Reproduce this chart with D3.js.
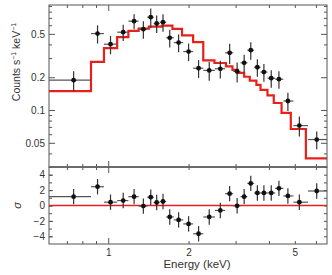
<!DOCTYPE html>
<html>
<head>
<meta charset="utf-8">
<script src="https://cdn.jsdelivr.net/npm/d3@7/dist/d3.min.js"></script>
<style>
  body { margin: 0; background: #fff; }
  text { font-family: "Liberation Sans", Arial, sans-serif; fill: #333; }
</style>
</head>
<body>
<svg id="chart" width="332" height="275"></svg>
<script>
// spectrum points (keV, counts s^-1 keV^-1)
const energy = [0.742, 0.912, 1.02, 1.138, 1.25, 1.354, 1.443, 1.519, 1.604, 1.70,
                1.835, 2.0, 2.18, 2.39, 2.63, 2.85, 3.04, 3.23, 3.42, 3.62,
                3.83, 4.08, 4.36, 4.71, 5.2, 6.04];
// bin edges of the data points (one more than points)
const dataEdges = [0.60, 0.862, 0.964, 1.08, 1.19, 1.30, 1.40, 1.48, 1.56, 1.65,
                   1.76, 1.91, 2.08, 2.27, 2.51, 2.74, 2.94, 3.13, 3.32, 3.52,
                   3.72, 3.95, 4.22, 4.53, 4.94, 5.60, 6.62];
const counts = [0.188, 0.503, 0.402, 0.518, 0.654, 0.552, 0.711, 0.622, 0.640, 0.460,
                0.416, 0.344, 0.242, 0.231, 0.239, 0.335, 0.226, 0.271, 0.354, 0.247,
                0.223, 0.196, 0.192, 0.121, 0.072, 0.0536];
const countErr = [0.039, 0.096, 0.077, 0.089, 0.104, 0.10, 0.143, 0.114, 0.118, 0.085,
                  0.077, 0.063, 0.045, 0.045, 0.044, 0.07, 0.047, 0.05, 0.065, 0.045,
                  0.041, 0.036, 0.035, 0.023, 0.015, 0.010];
// residuals in sigma
const resid = [1.15, 2.44, 0.43, 0.64, 1.15, -0.08, 1.08, 0.39, 0.52, -1.49,
               -1.87, -2.39, -3.67, -1.49, -0.64, 1.54, -0.04, 1.15, 2.87, 1.63,
               1.63, 1.63, 2.23, 1.24, 0.43, 1.88];

// folded model, step function
const modelEdges = [0.60, 0.862, 0.964, 1.08, 1.19, 1.30, 1.42, 1.59, 1.74, 1.89,
                    2.08, 2.27, 2.50, 2.76, 2.92, 3.06, 3.23, 3.39, 3.59, 3.72,
                    3.95, 4.17, 4.46, 4.83, 5.50, 6.62];
const modelRate = [0.149, 0.277, 0.370, 0.466, 0.533, 0.559, 0.583, 0.596, 0.555, 0.484,
                   0.420, 0.286, 0.270, 0.252, 0.234, 0.219, 0.202, 0.186, 0.170, 0.153,
                   0.136, 0.116, 0.094, 0.067, 0.036];

const yMajor = [0.05, 0.1, 0.2, 0.5];
const yMinor = [0.03, 0.04, 0.06, 0.07, 0.08, 0.09, 0.3, 0.4, 0.6, 0.7, 0.8, 0.9];
const xMajor = [1];
const xMinor = [0.7, 0.8, 0.9, 2, 3, 4, 5, 6];
const xLabels = [1, 2, 5];
const resTicks = [-4, -3, -2, -1, 0, 1, 2, 3, 4];
const resLabels = [-4, -2, 0, 2, 4];

const L = 49, R = 327, T = 5, M = 167, B = 244;
const svg = d3.select('#chart');
svg.append('rect').attr('width', 332).attr('height', 275).attr('fill', '#fff');

const x = d3.scaleLog().domain([0.6, 6.6]).range([L, R]);
const yTop = d3.scaleLog().domain([0.03, 0.92]).range([M, T]);
const yRes = d3.scaleLinear().domain([-5, 5]).range([B, M]);

const defs = svg.append('defs');
defs.append('clipPath').attr('id', 'clipTop')
    .append('rect').attr('x', L).attr('y', T).attr('width', R - L).attr('height', M - T);
defs.append('clipPath').attr('id', 'clipRes')
    .append('rect').attr('x', L).attr('y', M).attr('width', R - L).attr('height', B - M);

const pts = energy.map((e, i) => ({
    e, lo: dataEdges[i], hi: dataEdges[i + 1],
    c: counts[i], err: countErr[i], r: resid[i]
}));

// axes helper: ticks pointing inward
function ticks(g, axis, vals, size, fmt) {
    g.call(axis.tickValues(vals).tickSizeInner(size).tickSizeOuter(0).tickPadding(4)
        .tickFormat(fmt || ''));
    g.select('.domain').remove();
    g.selectAll('line').attr('stroke', '#555');
    g.selectAll('text').attr('font-size', 10).attr('fill', '#333');
}

// --- spectrum panel ---
const spec = svg.append('g');
ticks(spec.append('g').attr('transform', `translate(${L},0)`), d3.axisLeft(yTop), yMajor, -6,
      d => String(d));
ticks(spec.append('g').attr('transform', `translate(${L},0)`), d3.axisLeft(yTop), yMinor, -3);
ticks(spec.append('g').attr('transform', `translate(${R},0)`), d3.axisRight(yTop), yMajor, -6);
ticks(spec.append('g').attr('transform', `translate(${R},0)`), d3.axisRight(yTop), yMinor, -3);
ticks(spec.append('g').attr('transform', `translate(0,${T})`), d3.axisTop(x), xMajor, -6);
ticks(spec.append('g').attr('transform', `translate(0,${T})`), d3.axisTop(x), xMinor, -3);
ticks(spec.append('g').attr('transform', `translate(0,${M})`), d3.axisBottom(x), xMajor, -6);
ticks(spec.append('g').attr('transform', `translate(0,${M})`), d3.axisBottom(x), xMinor, -3);

const step = d3.line()
    .x(d => x(d[0])).y(d => yTop(d[1]))
    .curve(d3.curveStepAfter);
const modelPts = modelEdges.map((e, i) => [e, modelRate[Math.min(i, modelRate.length - 1)]]);
spec.append('path')
    .attr('clip-path', 'url(#clipTop)')
    .attr('d', step(modelPts))
    .attr('fill', 'none')
    .attr('stroke', '#e8201c')
    .attr('stroke-width', 2.2);

const dataTop = spec.append('g').attr('clip-path', 'url(#clipTop)');
dataTop.selectAll('.xe').data(pts).enter().append('line')
    .attr('x1', d => x(d.lo)).attr('x2', d => x(d.hi))
    .attr('y1', d => yTop(d.c)).attr('y2', d => yTop(d.c))
    .attr('stroke', '#555').attr('stroke-width', 1.2);
dataTop.selectAll('.ye').data(pts).enter().append('line')
    .attr('x1', d => x(d.e)).attr('x2', d => x(d.e))
    .attr('y1', d => yTop(d.c - d.err)).attr('y2', d => yTop(d.c + d.err))
    .attr('stroke', '#333').attr('stroke-width', 1.2);
dataTop.selectAll('circle').data(pts).enter().append('circle')
    .attr('cx', d => x(d.e)).attr('cy', d => yTop(d.c))
    .attr('r', 2.4).attr('fill', '#111');

// --- residual panel ---
const res = svg.append('g');
ticks(res.append('g').attr('transform', `translate(${L},0)`), d3.axisLeft(yRes), resLabels, -4,
      d => d < 0 ? '\u2212' + Math.abs(d) : String(d));
ticks(res.append('g').attr('transform', `translate(${L},0)`), d3.axisLeft(yRes), resTicks, -3);
ticks(res.append('g').attr('transform', `translate(${R},0)`), d3.axisRight(yRes), resTicks, -3);
ticks(res.append('g').attr('transform', `translate(0,${M})`), d3.axisTop(x), xMajor, -6);
ticks(res.append('g').attr('transform', `translate(0,${M})`), d3.axisTop(x), xMinor, -3);
ticks(res.append('g').attr('transform', `translate(0,${B})`), d3.axisBottom(x), xMajor, -6);
ticks(res.append('g').attr('transform', `translate(0,${B})`), d3.axisBottom(x), xMinor, -3);

const xLab = res.append('g').attr('transform', `translate(0,${B})`)
    .call(d3.axisBottom(x).tickValues(xLabels).tickSize(0).tickPadding(5).tickFormat(d => String(d)));
xLab.select('.domain').remove();
xLab.selectAll('text').attr('font-size', 10).attr('fill', '#333');

res.append('line')
    .attr('x1', L).attr('x2', R)
    .attr('y1', yRes(0)).attr('y2', yRes(0))
    .attr('stroke', '#e8201c').attr('stroke-width', 1.6);

const dataRes = res.append('g').attr('clip-path', 'url(#clipRes)');
dataRes.selectAll('.xe').data(pts).enter().append('line')
    .attr('x1', d => x(d.lo)).attr('x2', d => x(d.hi))
    .attr('y1', d => yRes(d.r)).attr('y2', d => yRes(d.r))
    .attr('stroke', '#555').attr('stroke-width', 1.2);
dataRes.selectAll('.ye').data(pts).enter().append('line')
    .attr('x1', d => x(d.e)).attr('x2', d => x(d.e))
    .attr('y1', d => yRes(d.r - 1)).attr('y2', d => yRes(d.r + 1))
    .attr('stroke', '#333').attr('stroke-width', 1.2);
dataRes.selectAll('circle').data(pts).enter().append('circle')
    .attr('cx', d => x(d.e)).attr('cy', d => yRes(d.r))
    .attr('r', 2.4).attr('fill', '#111');

// frames
svg.append('rect').attr('x', L).attr('y', T).attr('width', R - L).attr('height', M - T)
    .attr('fill', 'none').attr('stroke', '#555').attr('stroke-width', 1);
svg.append('rect').attr('x', L).attr('y', M).attr('width', R - L).attr('height', B - M)
    .attr('fill', 'none').attr('stroke', '#555').attr('stroke-width', 1);
svg.append('line').attr('x1', L).attr('x2', R).attr('y1', M).attr('y2', M)
    .attr('stroke', '#666').attr('stroke-width', 1.6);

// axis titles
const yt = svg.append('text')
    .attr('transform', `translate(20,62) rotate(-90)`)
    .attr('text-anchor', 'middle')
    .attr('font-size', 10.5);
yt.append('tspan').text('Counts s');
yt.append('tspan').attr('font-size', 7).attr('dy', -4).text('\u22121');
yt.append('tspan').attr('dy', 4).text(' keV');
yt.append('tspan').attr('font-size', 7).attr('dy', -4).text('\u22121');

svg.append('text')
    .attr('transform', `translate(21,${yRes(0)}) rotate(-90)`)
    .attr('text-anchor', 'middle')
    .attr('font-size', 11)
    .attr('font-style', 'italic')
    .text('\u03c3');

svg.append('text')
    .attr('x', 197).attr('y', 268)
    .attr('text-anchor', 'middle')
    .attr('font-size', 11.5)
    .text('Energy (keV)');
</script>
</body>
</html>
